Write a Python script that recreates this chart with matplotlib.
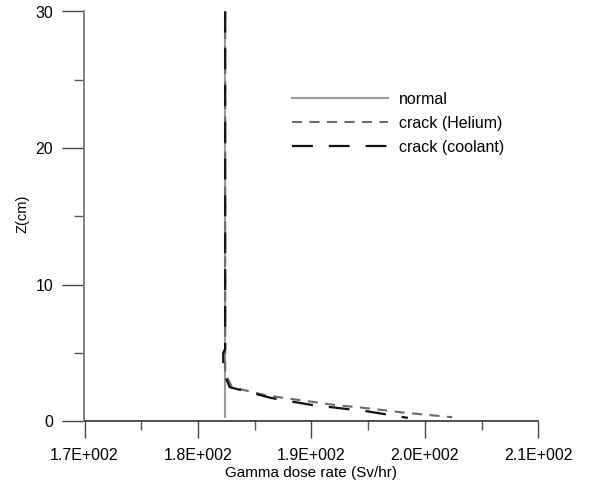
import matplotlib
matplotlib.use("Agg")
import matplotlib.pyplot as plt
from matplotlib.ticker import MultipleLocator

plt.rcParams['font.family'] = ['Liberation Sans', 'DejaVu Sans']
plt.rcParams['lines.scale_dashes'] = False

# dose rate (Sv/hr) vs height Z (cm)
normal_x = [182.4, 182.4]
normal_z = [0.3, 30.0]

helium_x = [182.4, 182.4, 182.65, 183.0, 186.0, 189.0, 192.0, 195.0, 198.0, 202.4]
helium_z = [30.0, 3.3, 3.1, 2.5, 1.9, 1.55, 1.2, 0.95, 0.65, 0.3]

coolant_x = [182.4, 182.4, 182.23, 182.23, 182.4, 182.8, 186.5, 190.0, 195.0, 198.5]
coolant_z = [30.0, 5.3, 5.0, 3.7, 3.3, 2.5, 1.7, 1.2, 0.72, 0.25]

xticks = [170, 180, 190, 200, 210]
xlabels = ["1.7E+002", "1.8E+002", "1.9E+002", "2.0E+002", "2.1E+002"]
yticks = [0, 10, 20, 30]

fig = plt.figure(figsize=(6.01, 4.86), dpi=100)
ax = fig.add_axes([84.5/601, 1 - 421.3/486, 453.8/601, 409.8/486])

ax.plot(normal_x, normal_z, color="#9a9a9a", lw=1.5, label="normal")
ax.plot(helium_x, helium_z, color="#6a6a6a", lw=1.5,
        linestyle=(0, (7.2, 5.4)), label="crack (Helium)")
ax.plot(coolant_x, coolant_z, color="#111111", lw=1.6,
        linestyle=(0, (15, 11.5)), label="crack (coolant)")

ax.set_xlim(170, 210)
ax.set_ylim(0, 30)
ax.set_xticks(xticks)
ax.set_xticklabels(xlabels)
ax.set_yticks(yticks)
ax.xaxis.set_minor_locator(MultipleLocator(5))
ax.yaxis.set_minor_locator(MultipleLocator(5))

for s in ["top", "right"]:
    ax.spines[s].set_visible(False)
ax.spines["left"].set_color("#808080")
ax.spines["left"].set_linewidth(1.4)
ax.spines["bottom"].set_color("#222222")
ax.spines["bottom"].set_linewidth(1.1)

ax.tick_params(axis="x", which="major", length=12, width=1.0, color="#444444",
               labelsize=11.5, pad=7)
ax.tick_params(axis="x", which="minor", length=6.5, width=1.0, color="#555555")
ax.tick_params(axis="y", which="major", length=15.5, width=1.0, color="#444444",
               labelsize=11.5, pad=7)
ax.tick_params(axis="y", which="minor", length=7, width=1.0, color="#555555")

ax.set_xlabel("Gamma dose rate (Sv/hr)", fontsize=11)
ax.set_ylabel("Z(cm)", fontsize=10.5)
ax.xaxis.set_label_coords(0.499, -0.109)
ax.yaxis.set_label_coords(-0.122, 0.506)

ax.legend(loc="upper left", bbox_to_anchor=(292/601, 1 - 92/486),
          bbox_transform=fig.transFigure, frameon=False, fontsize=11.5,
          handlelength=6.0, handletextpad=0.69, labelspacing=0.55,
          borderpad=0, borderaxespad=0)

fig.savefig("out.png", dpi=100)
